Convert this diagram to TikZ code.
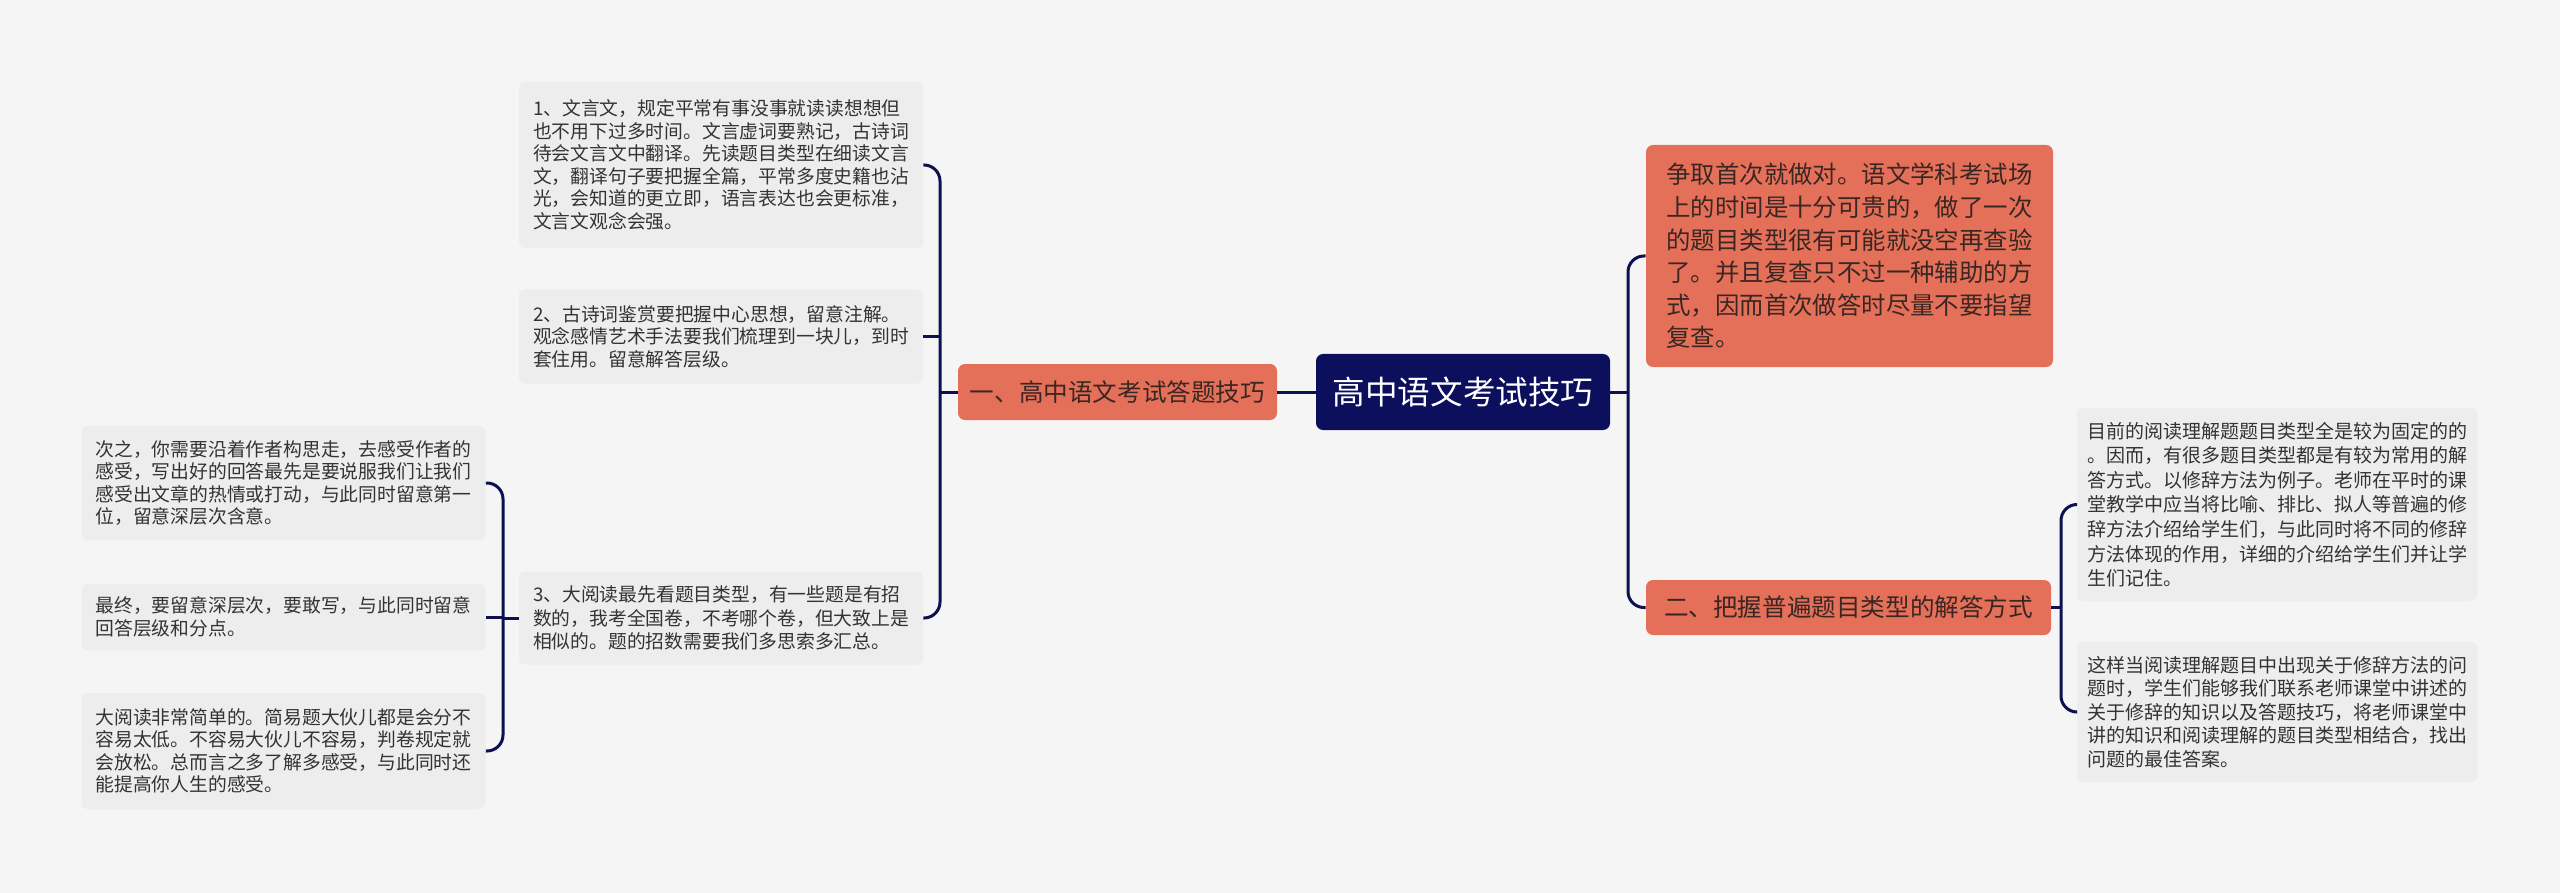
\documentclass[tikz,border=0pt]{standalone}
\usepackage{fontspec}
\setmainfont{Noto Sans CJK SC}
\definecolor{bg}{HTML}{F5F5F5}
\definecolor{leafbg}{HTML}{EDEDED}
\definecolor{leaftext}{HTML}{333333}
\definecolor{orange}{HTML}{E5705A}
\definecolor{orangetext}{HTML}{3A2622}
\definecolor{navy}{HTML}{0B0F5C}
\definecolor{linec}{HTML}{0D1150}
\tikzset{
  leaf/.style={fill=leafbg, rounded corners=3pt, minimum width=202pt, text=leaftext, align=left, inner sep=0pt, font=\fontsize{9.4}{11.25}\selectfont},
  rleaf/.style={leaf, minimum width=200pt},
  branch/.style={fill=orange, rounded corners=3.5pt, text=orangetext, inner sep=0pt, font=\fontsize{12.3}{14}\selectfont},
  rootbox/.style={fill=navy, rounded corners=3.5pt, text=white, inner sep=0pt, minimum width=147pt, minimum height=38pt, font=\fontsize{16.3}{18}\selectfont},
  conn/.style={draw=linec, line width=1.5pt},
  bracket/.style={conn, rounded corners=8pt}
}
\begin{document}
\begin{tikzpicture}[x=0.5pt,y=-0.5pt]
\fill[bg] (0,0) rectangle (2560,893);
\path[use as bounding box] (0,0) rectangle (2560,893);

% root and branches
\node[rootbox] (root) at (1463,392) {高中语文考试技巧};
\node[branch, minimum width=159.5pt, minimum height=28pt] (b1) at (1117.5,392) {一、高中语文考试答题技巧};
\node[branch, minimum width=202.5pt, minimum height=27.5pt] (b2) at (1848.5,607.5) {二、把握普遍题目类型的解答方式};
\node[branch, minimum width=203.5pt, minimum height=111pt, align=left, font=\fontsize{12.2}{16.3}\selectfont] (topr) at (1849.5,256) {争取首次就做对。语文学科考试场\\上的时间是十分可贵的，做了一次\\的题目类型很有可能就没空再查验\\了。并且复查只不过一种辅助的方\\式，因而首次做答时尽量不要指望\\复查。};

% left leaves
\node[leaf, minimum height=83pt] (l1) at (721,165) {1、文言文，规定平常有事没事就读读想想但\\也不用下过多时间。文言虚词要熟记，古诗词\\待会文言文中翻译。先读题目类型在细读文言\\文，翻译句子要把握全篇，平常多度史籍也沾\\光，会知道的更立即，语言表达也会更标准，\\文言文观念会强。};
\node[leaf, minimum height=47pt] (l2) at (721,336.5) {2、古诗词鉴赏要把握中心思想，留意注解。\\观念感情艺术手法要我们梳理到一块儿，到时\\套住用。留意解答层级。};
\node[leaf, minimum height=46.5pt, font=\fontsize{9.4}{11.6}\selectfont] (l3) at (721,618) {3、大阅读最先看题目类型，有一些题是有招\\数的，我考全国卷，不考哪个卷，但大致上是\\相似的。题的招数需要我们多思索多汇总。};
\node[leaf, minimum height=57pt] (l3a) at (283.5,483) {次之，你需要沿着作者构思走，去感受作者的\\感受，写出好的回答最先是要说服我们让我们\\感受出文章的热情或打动，与此同时留意第一\\位，留意深层次含意。};
\node[leaf, minimum height=33pt] (l3b) at (283.5,617) {最终，要留意深层次，要敢写，与此同时留意\\回答层级和分点。};
\node[leaf, minimum height=58pt] (l3c) at (283.5,751) {大阅读非常简单的。简易题大伙儿都是会分不\\容易太低。不容易大伙儿不容易，判卷规定就\\会放松。总而言之多了解多感受，与此同时还\\能提高你人生的感受。};

% right leaves
\node[rleaf, minimum height=96.5pt, font=\fontsize{9.5}{12.3}\selectfont] (ra) at (2277,504.5) {目前的阅读理解题题目类型全是较为固定的的\\。因而，有很多题目类型都是有较为常用的解\\答方式。以修辞方法为例子。老师在平时的课\\堂教学中应当将比喻、排比、拟人等普遍的修\\辞方法介绍给学生们，与此同时将不同的修辞\\方法体现的作用，详细的介绍给学生们并让学\\生们记住。};
\node[rleaf, minimum height=70pt, font=\fontsize{9.5}{11.7}\selectfont] (rb) at (2277,712) {这样当阅读理解题目中出现关于修辞方法的问\\题时，学生们能够我们联系老师课堂中讲述的\\关于修辞的知识以及答题技巧，将老师课堂中\\讲的知识和阅读理解的题目类型相结合，找出\\问题的最佳答案。};

% spine coordinates
\coordinate (s0) at (1628,392);
\coordinate (s1) at (940,392);
\coordinate (s2) at (2061,607.5);
\coordinate (s3) at (503,618);

% connectors
\draw[conn] (root.west) -- (b1.east);
\draw[conn] (root.east) -- (s0);
\draw[bracket] (topr.west) -| (s0) |- (b2.west);

\draw[conn] (b1.west) -- (s1);
\draw[bracket] (l1.east) -| (s1) |- (l3.east);
\draw[conn] (l2.east) -- (l2.east -| s1);

\draw[conn] (l3.west) -- (s3);
\draw[bracket] (l3a.east) -| (s3) |- (l3c.east);
\draw[conn] (l3b.east) -- (l3b.east -| s3);

\draw[conn] (b2.east) -- (s2);
\draw[bracket] (ra.west) -| (s2) |- (rb.west);
\end{tikzpicture}
\end{document}
